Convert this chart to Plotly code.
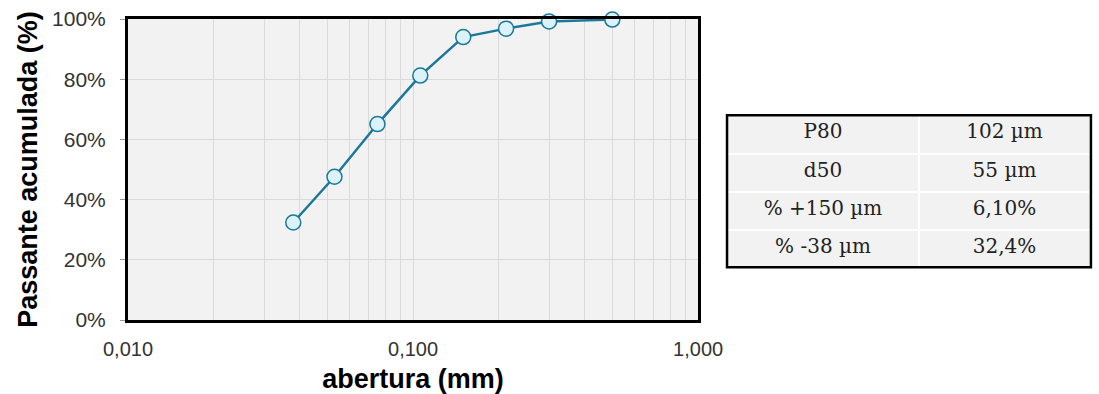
import plotly.graph_objects as go

# Data
abertura_mm = [0.038, 0.053, 0.075, 0.106, 0.150, 0.212, 0.300, 0.500]
passante_pct = [32.4, 47.6, 65.1, 81.2, 94.0, 96.8, 99.2, 99.8]

x_major_vals = [0.01, 0.1, 1.0]
x_major_text = ["0,010", "0,100", "1,000"]
y_tick_vals = [0, 20, 40, 60, 80, 100]
y_tick_text = ["0%", "20%", "40%", "60%", "80%", "100%"]

table_labels = ["P80", "d50", "% +150 µm", "% -38 µm"]
table_values = ["102 µm", "55 µm", "6,10%", "32,4%"]

x_grid_vals = []
x_grid_text = []
for dec in [0.01, 0.1]:
    for m in range(1, 10):
        v = round(dec * m, 6)
        x_grid_vals.append(v)
        x_grid_text.append(x_major_text[x_major_vals.index(dec)] if m == 1 else "")
x_grid_vals.append(1.0)
x_grid_text.append("1,000")

S = 1124 / 1099  # horizontal compensation
W, H = 1124, 394
L, R, T, B = round(125 * S), 4, 19, 72
plot_w = W - L - R
plot_h = H - T - B

def px_x(p):
    return (p * S - L) / plot_w

def px_y(p):
    return (H - B - p) / plot_h

fig = go.Figure()

fig.add_trace(go.Scatter(
    x=abertura_mm, y=passante_pct, mode="lines+markers",
    line=dict(color="#1b7898", width=2.5),
    marker=dict(size=15, color="#dcf2fa", line=dict(color="#1b7898", width=1.5)),
    cliponaxis=False, showlegend=False,
))

tab_font = dict(family="DejaVu Serif", size=20, color="#222")
fig.add_trace(go.Table(
    domain=dict(x=[px_x(726), px_x(1091)], y=[px_y(270), px_y(116)]),
    columnwidth=[193, 172],
    header=dict(values=[table_labels[0], table_values[0]],
                fill_color="#f2f2f2", line=dict(color="white", width=2),
                font=tab_font, height=38.3, align="center"),
    cells=dict(values=[table_labels[1:], table_values[1:]],
               fill_color="#f2f2f2", line=dict(color="white", width=2),
               font=tab_font, height=38.3, align="center"),
))

fig.add_shape(type="rect", xref="paper", yref="paper",
              x0=px_x(726), x1=px_x(1091), y0=px_y(269), y1=px_y(116),
              line=dict(color="black", width=2.5))

fig.update_layout(
    width=W, height=H,
    margin=dict(l=L, r=R, t=T, b=B),
    paper_bgcolor="white", plot_bgcolor="#f2f2f2",
    font=dict(family="Liberation Sans, Arial", color="#333"),
    xaxis=dict(
        type="log", range=[-2, 0], domain=[0, px_x(697)],
        tickvals=x_grid_vals, ticktext=x_grid_text, ticks="",
        ticklabelstandoff=9,
        showgrid=True, gridcolor="#dadada", gridwidth=1,
        showline=True, mirror=True, linecolor="black", linewidth=3,
        tickfont=dict(size=20, color="#333"),
        title=dict(text="<b>abertura (mm)</b>", font=dict(size=27, color="black"), standoff=11),
        zeroline=False,
    ),
    yaxis=dict(
        range=[0, 100], tickvals=y_tick_vals, ticktext=y_tick_text,
        ticks="outside", ticklen=5, tickcolor="#999",
        ticklabelstandoff=10,
        showgrid=True, gridcolor="#dadada", gridwidth=1,
        showline=True, mirror=True, linecolor="black", linewidth=3,
        tickfont=dict(size=21, color="#333"),
        title=dict(text="<b>Passante acumulada (%)</b>", font=dict(size=27, color="black"), standoff=7),
        zeroline=False,
    ),
)

fig.write_html("out.html")
